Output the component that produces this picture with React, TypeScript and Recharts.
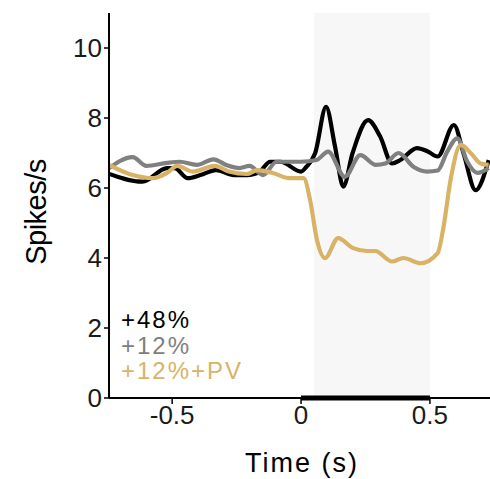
import {
  LineChart, Line, XAxis, YAxis, ReferenceArea, ReferenceLine,
} from 'recharts';

// time points (s) and firing rates (spikes/s)
const blackT = [-0.755, -0.615, -0.52, -0.49, -0.44, -0.39, -0.33, -0.26, -0.21, -0.16, -0.12, -0.08, 0, 0.02, 0.055, 0.097, 0.132, 0.164, 0.2, 0.26, 0.307, 0.353, 0.385, 0.45, 0.49, 0.53, 0.593, 0.63, 0.677, 0.728];
const blackY = [6.43, 6.18, 6.57, 6.57, 6.28, 6.37, 6.51, 6.37, 6.37, 6.47, 6.75, 6.75, 6.47, 6.6, 7.0, 8.32, 7.18, 6.04, 7.0, 7.94, 7.47, 6.7, 6.8, 7.14, 7.05, 6.9, 7.8, 7.0, 5.94, 6.8];

const grayT = [-0.755, -0.653, -0.6, -0.52, -0.47, -0.405, -0.34, -0.29, -0.24, -0.2, -0.147, -0.095, 0, 0.06, 0.105, 0.17, 0.23, 0.29, 0.327, 0.378, 0.437, 0.49, 0.53, 0.567, 0.606, 0.645, 0.684, 0.728];
const grayY = [6.51, 6.88, 6.63, 6.72, 6.75, 6.66, 6.82, 6.66, 6.57, 6.63, 6.37, 6.75, 6.75, 6.8, 7.04, 6.32, 6.94, 6.66, 6.7, 7.0, 6.6, 6.47, 6.5, 7.04, 7.42, 6.75, 6.43, 6.57];

const goldT = [-0.755, -0.653, -0.575, -0.52, -0.48, -0.42, -0.335, -0.28, -0.21, -0.17, -0.11, -0.045, 0.01, 0.035, 0.062, 0.093, 0.144, 0.2, 0.256, 0.288, 0.353, 0.397, 0.463, 0.53, 0.553, 0.58, 0.62, 0.658, 0.697, 0.728];
const goldY = [6.7, 6.37, 6.28, 6.43, 6.63, 6.47, 6.63, 6.47, 6.4, 6.51, 6.43, 6.28, 6.28, 5.66, 4.51, 4.0, 4.57, 4.29, 4.2, 4.2, 3.9, 4.0, 3.85, 4.14, 4.9, 6.23, 7.23, 7.0, 6.7, 6.66];

const yTicks = [0, 2, 4, 6, 8, 10];
const xTicks = [-0.5, 0, 0.5];

const series = [
  { name: '+48%', color: '#000000', t: blackT, y: blackY },
  { name: '+12%', color: '#808080', t: grayT, y: grayY },
  { name: '+12%+PV', color: '#d8b365', t: goldT, y: goldY },
];

const font = '"Liberation Sans", Arial, Helvetica, sans-serif';
const tickStyle = { fontSize: 26, fill: '#1a1a1a', fontFamily: font };

export default function App() {
  return (
    <div style={{ position: 'absolute', left: 0, top: 0, width: 490, height: 479, fontFamily: font }}>
      <LineChart width={490} height={479} margin={{ top: 13, right: 0, left: 0, bottom: 0 }}>
        <ReferenceArea x1={0.05} x2={0.5} y1={0} y2={11} fill="#f7f7f7" fillOpacity={1} stroke="none" />
        <XAxis
          type="number" dataKey="t" domain={[-0.745, 0.733]} ticks={xTicks} allowDataOverflow
          height={81} tick={tickStyle} tickSize={6} tickMargin={2}
          axisLine={{ stroke: '#000', strokeWidth: 2 }} tickLine={{ stroke: '#000', strokeWidth: 1.5 }}
          tickFormatter={(v: number) => (v === 0 ? '0' : String(v))}
        />
        <YAxis
          type="number" domain={[0, 11]} ticks={yTicks} allowDataOverflow
          width={109} tick={tickStyle} tickSize={5} tickMargin={2}
          axisLine={{ stroke: '#000', strokeWidth: 2 }} tickLine={{ stroke: '#000', strokeWidth: 1.5 }}
        />
        {series.map(s => (
          <Line
            key={s.name} data={s.t.map((t, i) => ({ t, v: s.y[i] }))} dataKey="v" name={s.name}
            type="monotone" stroke={s.color} strokeWidth={4.2} dot={false} isAnimationActive={false}
          />
        ))}
        <ReferenceLine segment={[{ x: 0, y: 0 }, { x: 0.5, y: 0 }]} stroke="#000" strokeWidth={5} ifOverflow="visible" />
      </LineChart>
      <div style={{
        position: 'absolute', left: 36, top: 212, fontSize: 29, letterSpacing: -0.5, whiteSpace: 'nowrap',
        transform: 'translate(-50%, -50%) rotate(-90deg)', lineHeight: '32px',
      }}>Spikes/s</div>
      <div style={{
        position: 'absolute', left: 302, top: 463, fontSize: 27, letterSpacing: 2, whiteSpace: 'nowrap',
        transform: 'translate(-50%, -50%)', lineHeight: '30px',
      }}>Time (s)</div>
      <div style={{ position: 'absolute', left: 121, top: 307, fontSize: 24, letterSpacing: 2, lineHeight: '25.5px' }}>
        {series.map(s => (
          <div key={s.name} style={{ color: s.color }}>{s.name}</div>
        ))}
      </div>
    </div>
  );
}
